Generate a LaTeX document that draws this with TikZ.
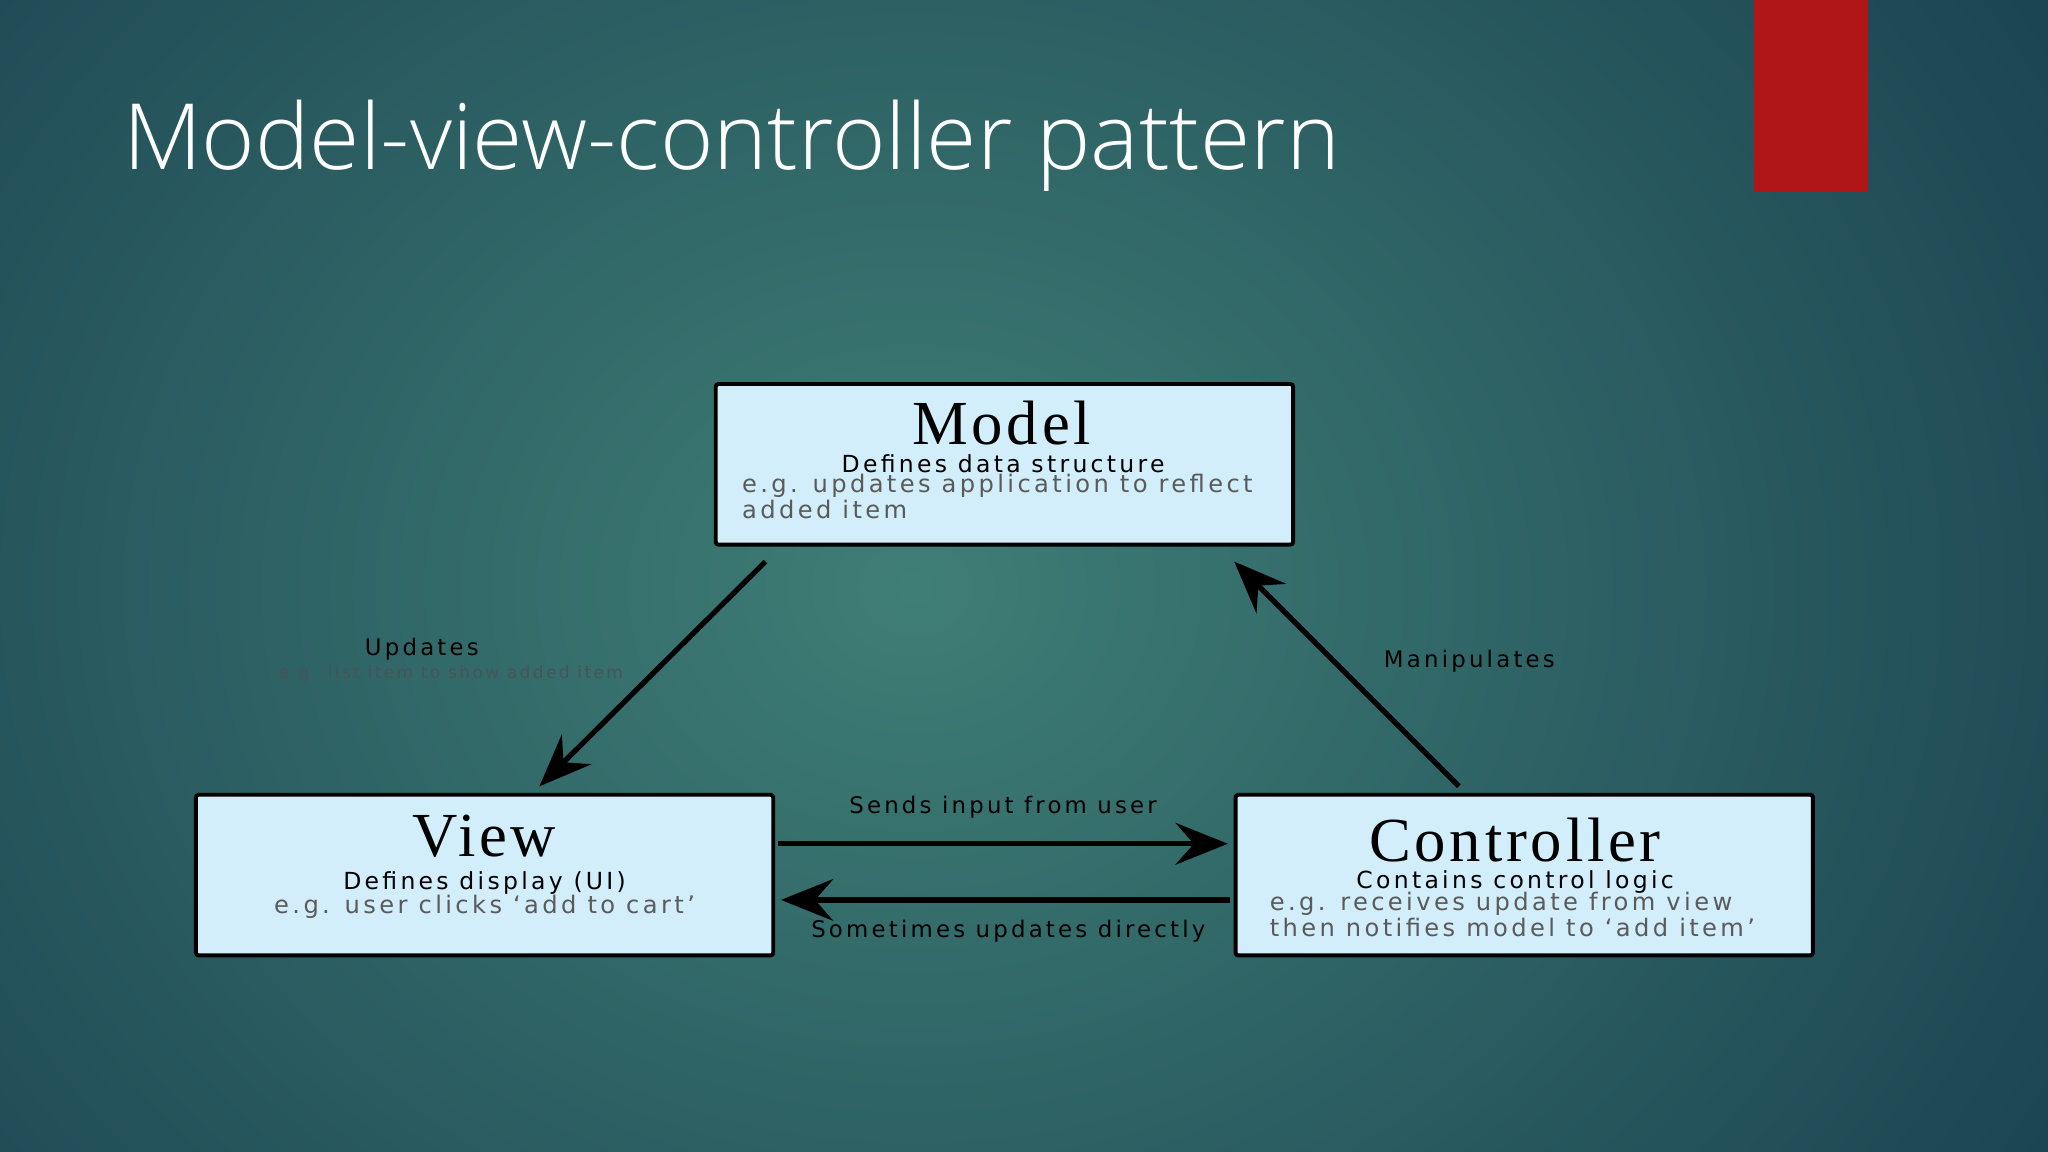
\documentclass[tikz,border=0pt]{standalone}
\usepackage{fontspec}
\setmainfont{DejaVu Sans}[LetterSpace=14]
\newfontfamily\titlefont{Open Sans Light}
\newfontfamily\serifbox{Liberation Serif}[LetterSpace=6]
\usetikzlibrary{arrows.meta}
\definecolor{bgin}{HTML}{3F7E76}
\definecolor{bgout}{HTML}{1C4552}
\definecolor{boxfill}{HTML}{D2EEFA}
\definecolor{redbar}{HTML}{B01518}
\definecolor{graytxt}{HTML}{5A5A5A}
\tikzset{
 box/.style={draw=black,line width=3pt,fill=boxfill,rounded corners=2pt,minimum width=442pt,minimum height=123pt,inner sep=0pt},
 arr/.style={line width=4pt,-{Stealth[length=40pt,width=32pt,inset=14pt]}},
 hd/.style={font=\serifbox\fontsize{48}{48}\selectfont,inner sep=0},
 sub/.style={font=\fontsize{18}{18}\selectfont,inner sep=0},
 lab/.style={font=\fontsize{17.5}{17.5}\selectfont,text=black},
 gr/.style={font=\fontsize{18.5}{20}\selectfont,text=graytxt,align=left,anchor=north west,inner sep=0}
}
\begin{document}
\begin{tikzpicture}[x=1pt,y=-1pt]
\useasboundingbox (0,0) rectangle (1568,882);
\shade[inner color=bgin,outer color=bgout] (-300,-400) rectangle (1700,1300);
\fill[redbar] (1343,0) rectangle (1430,147);
\node[anchor=base west,text=white,font=\titlefont\fontsize{70}{70}\selectfont,inner sep=0] (title) at (94,130) {Model-view-controller pattern};

\node[box] (model) at (769,355.5) {};
\node[box] (view) at (371,670) {};
\node[box] (ctrl) at (1167,670) {};

\node[hd] (mt) at (767,324) {Model};
\node[sub] (ms) at (768,355) {Defines data structure};
\node[gr] (mg) at (568,363) {e.g. updates application to reflect\\added item};

\node[hd] (vt) at (371,640) {View};
\node[sub] (vs) at (371,676) {Defines display (UI)};
\node[font=\fontsize{18.5}{18.5}\selectfont,text=graytxt,inner sep=0] (vg) at (371,694) {e.g. user clicks `add to cart'};

\node[hd] (ct) at (1160,643) {Controller};
\node[sub] (cs) at (1160,675) {Contains control logic};
\node[gr] (cg) at (972,683) {e.g. receives update from view\\then notifies model to `add item'};

\coordinate (m1) at (586,430);
\coordinate (v1) at (413,602);
\coordinate (c1) at (1117,602);
\coordinate (m2) at (945,430);
\coordinate (v2) at (596,646);
\coordinate (c2) at (940,646);
\coordinate (c3) at (942,689);
\coordinate (v3) at (598,689);
\draw[arr] (m1) -- (v1);
\draw[arr] (c1) -- (m2);
\draw[arr] (v2) -- (c2);
\draw[arr] (c3) -- (v3);

\node[lab] (l1) at (323,497) {Updates};
\node[font=\fontsize{13}{13}\selectfont,text=graytxt!70!bgout] (l1b) at (345,516) {e.g. list item to show added item};
\node[lab] (l2) at (1125,506) {Manipulates};
\node[lab] (l3) at (768,618) {Sends input from user};
\node[lab] (l4) at (772,713) {Sometimes updates directly};
\end{tikzpicture}
\end{document}
